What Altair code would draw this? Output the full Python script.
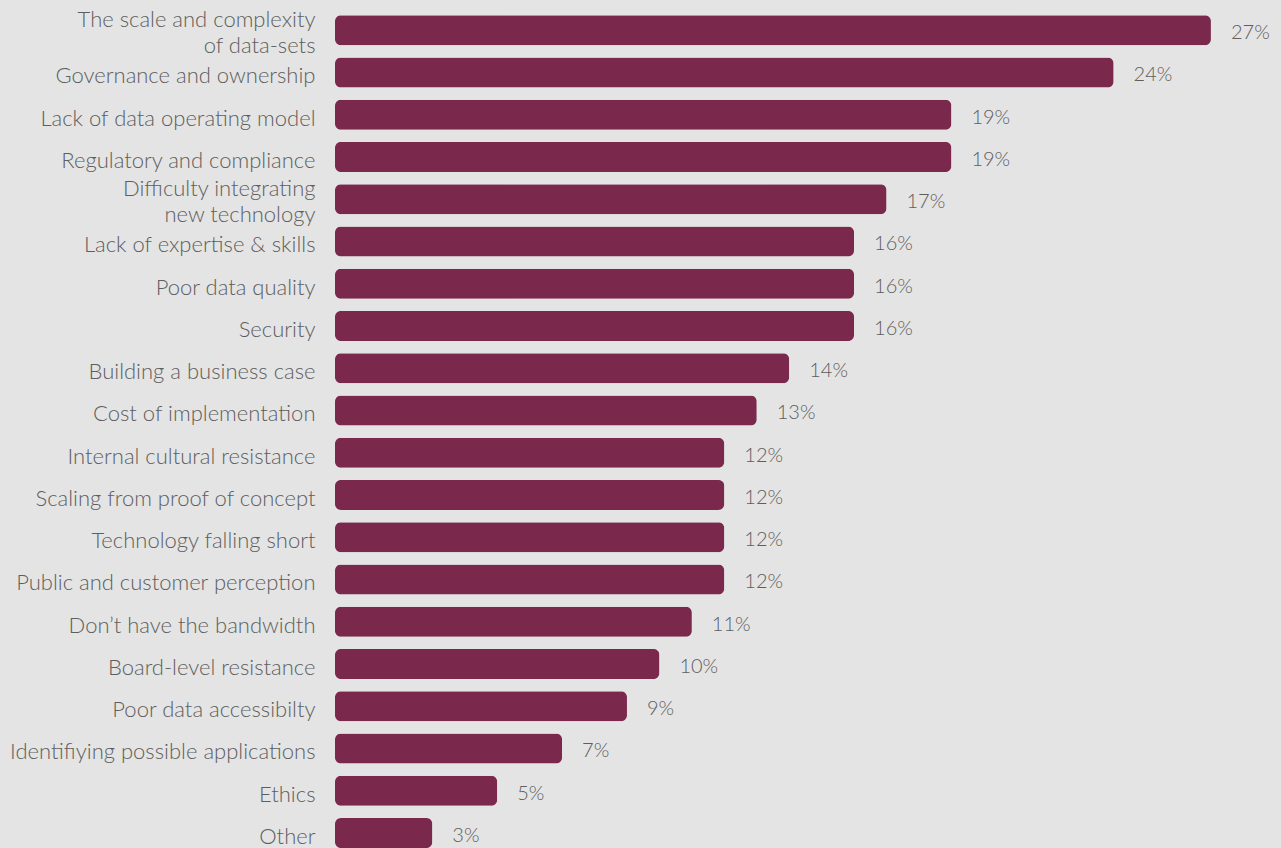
import altair as alt
import pandas as pd

categories = [
    "The scale and complexity\nof data-sets",
    "Governance and ownership",
    "Lack of data operating model",
    "Regulatory and compliance",
    "Difficulty integrating\nnew technology",
    "Lack of expertise & skills",
    "Poor data quality",
    "Security",
    "Building a business case",
    "Cost of implementation",
    "Internal cultural resistance",
    "Scaling from proof of concept",
    "Technology falling short",
    "Public and customer perception",
    "Don\u2019t have the bandwidth",
    "Board-level resistance",
    "Poor data accessibilty",
    "Identifiying possible applications",
    "Ethics",
    "Other",
]
values = [27, 24, 19, 19, 17, 16, 16, 16, 14, 13, 12, 12, 12, 12, 11, 10, 9, 7, 5, 3]

df = pd.DataFrame({"category": categories, "value": values})
df["label"] = df["value"].astype(str) + "%"

BG = "#e4e4e4"
BAR = "#7a294d"
TXT = "#5e5e5e"
FONT = "Lato"

y = alt.Y(
    "category:N",
    sort=None,
    scale=alt.Scale(paddingInner=0.29, paddingOuter=0.179, align=1),
    axis=alt.Axis(
        title=None,
        domain=False,
        ticks=False,
        grid=False,
        labelPadding=20,
        labelLimit=0,
        labelFontSize=22,
        labelFont=FONT,
        labelFontWeight=300,
        labelColor=TXT,
        labelLineHeight=26,
        labelOffset={
            "condition": {"test": "indexof(datum.value, '\\n') >= 0", "value": -10},
            "value": 4,
        },
        labelExpr="split(datum.value, '\\n')",
    ),
)
x = alt.X(
    "value:Q",
    scale=alt.Scale(domain=[0, 29.16], nice=False),
    axis=None,
)

bars = alt.Chart(df).mark_bar(color=BAR, cornerRadius=6).encode(y=y, x=x)
text = alt.Chart(df).mark_text(
    align="left", baseline="middle", dx=20, dy=3, fontSize=20,
    font=FONT, fontWeight=300, color=TXT,
).encode(y=alt.Y("category:N", sort=None), x="value:Q", text="label:N")

chart = (
    alt.layer(bars, text)
    .properties(
        width=946,
        height=848,
        background=BG,
        padding={"left": 335, "top": 0, "right": 0, "bottom": 0},
        autosize=alt.AutoSizeParams(type="none"),
    )
    .configure_view(stroke=None, fill=BG)
)

chart.save("out.html", embed_options={"renderer": "svg", "actions": False})
